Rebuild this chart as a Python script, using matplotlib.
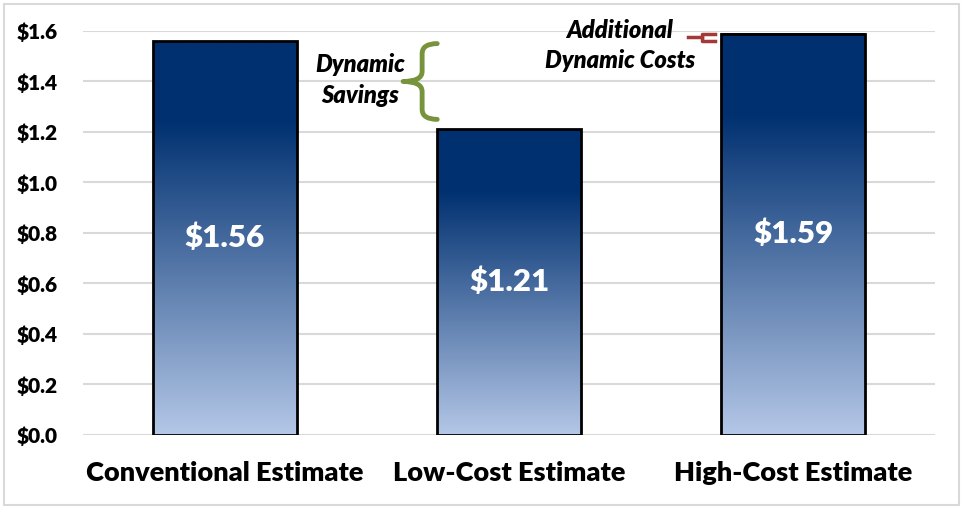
import numpy as np
import matplotlib.pyplot as plt
from matplotlib.colors import LinearSegmentedColormap
from matplotlib.patches import Rectangle, PathPatch
from matplotlib.path import Path

categories = ["Conventional Estimate", "Low-Cost Estimate", "High-Cost Estimate"]
values = [1.56, 1.21, 1.59]
bar_labels = ["$1.56", "$1.21", "$1.59"]
yticks = [0.0, 0.2, 0.4, 0.6, 0.8, 1.0, 1.2, 1.4, 1.6]

plt.rcParams['font.family'] = ['Lato', 'DejaVu Sans']
W = 'heavy'

fig = plt.figure(figsize=(9.62, 5.12), dpi=100)
ax = fig.add_axes([0.0863, 0.1504, 0.8857, 0.7891])

grad = LinearSegmentedColormap.from_list(
    "bars", [(0, "#b4c7e7"), (0.8, "#003070"), (1.0, "#003070")])

width = 0.507
x = np.arange(len(categories))
bars = ax.bar(x, values, width=width, facecolor='none', edgecolor='black',
              linewidth=2, zorder=3)
g = np.linspace(0, 1, 256).reshape(-1, 1)
for b in bars:
    x0, h = b.get_x(), b.get_height()
    ax.imshow(g, cmap=grad, origin='lower', aspect='auto', zorder=2,
              extent=(x0, x0 + width, 0, h), interpolation='bilinear')

for xi, v, lab in zip(x, values, bar_labels):
    ax.text(xi, v / 2, lab, color='white', fontsize=22.5, fontweight=W,
            ha='center', va='center', zorder=4)

ax.set_xlim(-0.5, 2.5)
ax.set_ylim(0, 1.6)
ax.set_yticks(yticks)
ax.set_yticklabels(["$%.1f" % t for t in yticks], fontsize=15, fontweight=W)
ax.set_xticks(x)
ax.set_xticklabels(categories, fontsize=19.5, fontweight=W)
ax.tick_params(length=0)
ax.tick_params(axis='y', pad=18)
ax.tick_params(axis='x', pad=19)
ax.grid(axis='y', color='#d9d9d9', linewidth=1.5, zorder=0)
ax.set_axisbelow(True)
for s in ax.spines.values():
    s.set_visible(False)

# curly brace for dynamic savings
bx, btop, bbot, bmid = 0.694, 1.55, 1.25, 1.40
rx, tip, ry = 0.053, 0.067, 0.04
verts = [(bx + rx, btop), (bx, btop), (bx, btop - ry),
         (bx, bmid + ry), (bx, bmid), (bx - tip, bmid),
         (bx, bmid), (bx, bmid - ry),
         (bx, bbot + ry), (bx, bbot), (bx + rx, bbot)]
codes = [Path.MOVETO, Path.CURVE3, Path.CURVE3,
         Path.LINETO, Path.CURVE3, Path.CURVE3,
         Path.CURVE3, Path.CURVE3,
         Path.LINETO, Path.CURVE3, Path.CURVE3]
ax.add_patch(PathPatch(Path(verts, codes), facecolor='none', edgecolor='#77933c',
                       linewidth=3.5, capstyle='round', joinstyle='round', zorder=5))
ax.text(0.475, 1.405, "Dynamic\nSavings", fontsize=17, fontweight=W,
        style='italic', ha='center', va='center', linespacing=1.4, zorder=5)

# small bracket for additional dynamic costs
cx_tip, cx_v, cx_end = 1.630, 1.679, 1.725
ax.plot([cx_end, cx_v, cx_v, cx_end], [1.59, 1.59, 1.56, 1.56],
        color='#a33a37', linewidth=2.5, zorder=5, clip_on=False)
ax.plot([cx_tip, cx_v], [1.575, 1.575], color='#a33a37',
        linewidth=2.5, zorder=5, clip_on=False)
ax.text(1.39, 1.542, "Additional\nDynamic Costs", fontsize=17, fontweight=W,
        style='italic', ha='center', va='center', linespacing=1.4, zorder=5)

fig.patches.append(Rectangle((4 / 962, 7 / 512), 955 / 962, 501 / 512,
                             transform=fig.transFigure, fill=False,
                             edgecolor='#d9d9d9', linewidth=1.5))

fig.savefig("out.png", dpi=100)
